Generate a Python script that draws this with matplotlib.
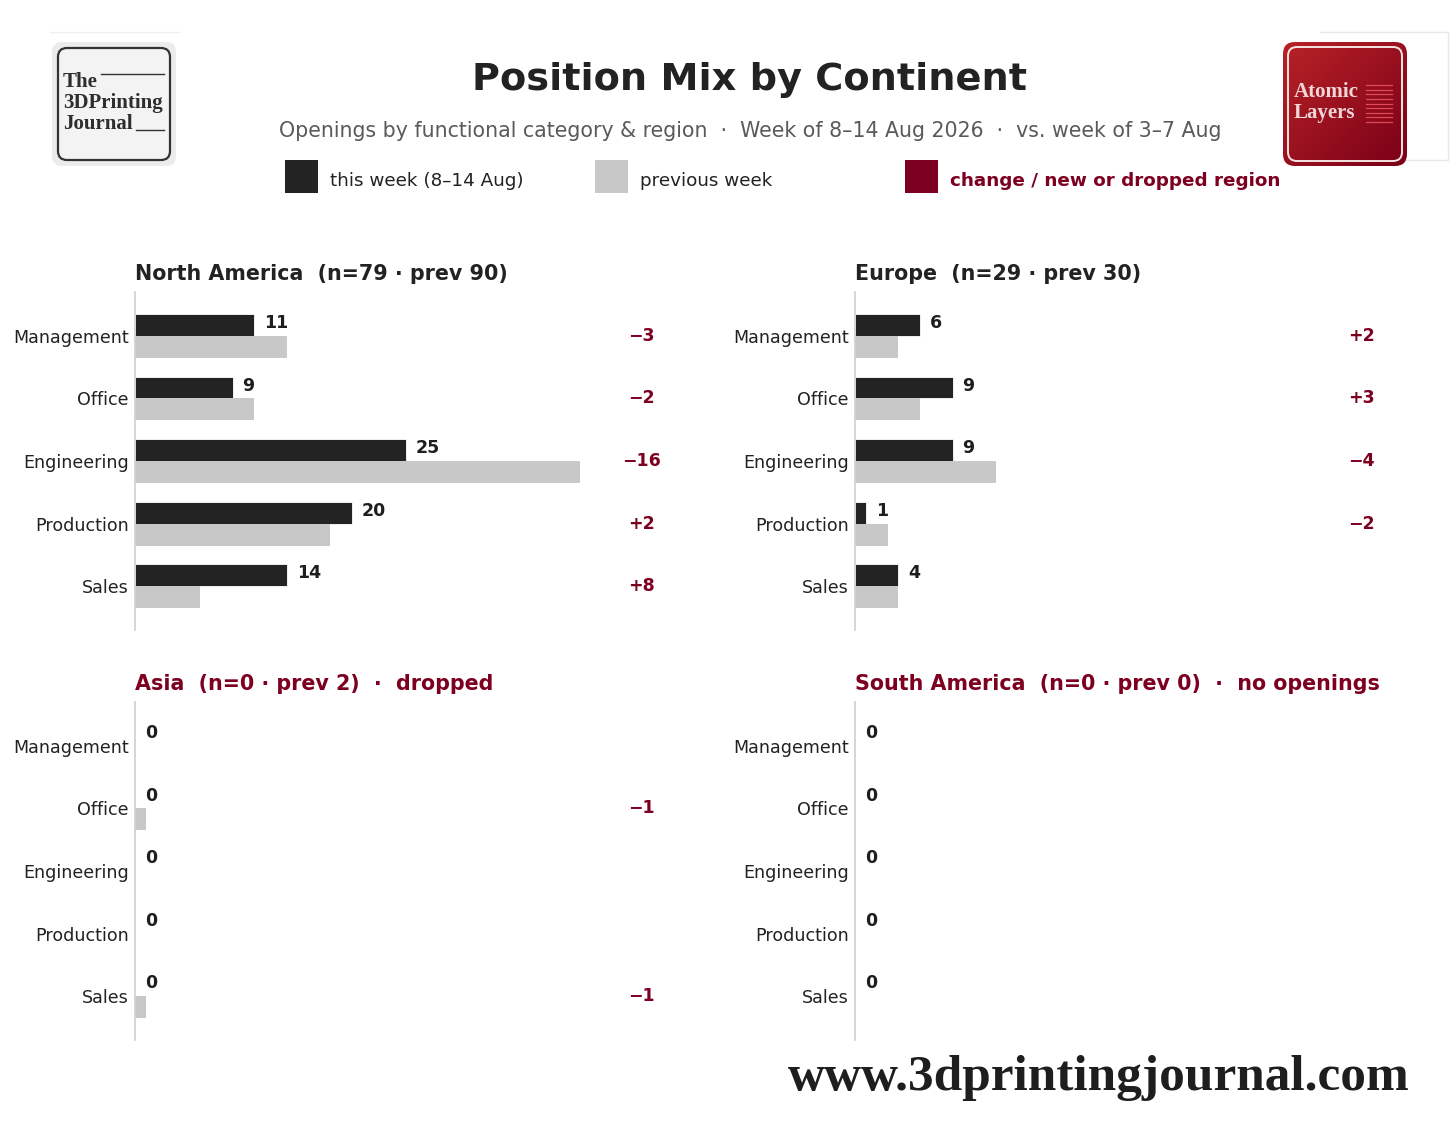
import numpy as np
import matplotlib
matplotlib.use("Agg")
import matplotlib.pyplot as plt
from matplotlib.patches import FancyBboxPatch, Rectangle
from matplotlib.colors import LinearSegmentedColormap

# data
categories = ["Management", "Office", "Engineering", "Production", "Sales"]
regions = ["North America", "Europe", "Asia", "South America"]
this_na = [11, 9, 25, 20, 14]
prev_na = [14, 11, 41, 18, 6]
this_eu = [6, 9, 9, 1, 4]
prev_eu = [4, 6, 13, 3, 4]
this_as = [0, 0, 0, 0, 0]
prev_as = [0, 1, 0, 0, 1]
this_sa = [0, 0, 0, 0, 0]
prev_sa = [0, 0, 0, 0, 0]
notes = ["", "", "dropped", "no openings"]

DARK = "#232323"
LIGHT = "#c8c8c8"
RED = "#7d0020"

plt.rcParams["font.family"] = ["DejaVu Sans"]

fig = plt.figure(figsize=(14.56, 11.43), dpi=100)

# header
fig.text(0.515, 1 - 80 / 1143, "Position Mix by Continent", ha="center", va="center",
         fontsize=27.5, fontweight="bold", color="#222222")
fig.text(0.515, 1 - 131 / 1143,
         "Openings by functional category & region  \u00b7  Week of 8\u201314 Aug 2026  \u00b7  vs. week of 3\u20137 Aug",
         ha="center", va="center", fontsize=14.8, color="#5a5a5a")

# legend
leg = [(285, "this week (8\u201314 Aug)", DARK, "#222222", "normal"),
       (595, "previous week", LIGHT, "#222222", "normal"),
       (905, "change / new or dropped region", RED, RED, "bold")]
for x0, lab, fc, tc, fw in leg:
    fig.patches.append(Rectangle((x0 / 1456, 1 - 193 / 1143), 33 / 1456, 33 / 1143,
                                 transform=fig.transFigure, facecolor=fc, edgecolor="none"))
    fig.text((x0 + 45) / 1456, 1 - 181 / 1143, lab, ha="left", va="center",
             fontsize=13.2, color=tc, fontweight=fw)

# panels
this_all = [this_na, this_eu, this_as, this_sa]
prev_all = [prev_na, prev_eu, prev_as, prev_sa]
lefts = [135 / 1456, 855 / 1456]
bottoms = [1 - 630 / 1143, 1 - 1040 / 1143]
w = 0.38
h = 338 / 1143
xmax = 51
y = np.arange(len(categories))
bh = 0.35

for i, reg in enumerate(regions):
    ax = fig.add_axes([lefts[i % 2], bottoms[i // 2], w, h])
    cur = this_all[i]
    prv = prev_all[i]
    ax.barh(y - bh / 2, cur, height=bh, color=DARK, edgecolor="white", linewidth=0.6)
    ax.barh(y + bh / 2, prv, height=bh, color=LIGHT, edgecolor="none")
    for yy, c, p in zip(y, cur, prv):
        ax.text(c + 0.9, yy - bh / 2 - 0.03, str(c), ha="left", va="center",
                fontsize=12.5, fontweight="bold", color="#1e1e1e")
        d = c - p
        if d != 0:
            ax.text(46.7, yy, f"{d:+d}".replace("-", "\u2212"), ha="center", va="center",
                    fontsize=12.5, fontweight="bold", color=RED)
    ax.set_xlim(0, xmax)
    ax.set_ylim(4.7, -0.7)
    ax.set_yticks(y)
    ax.set_yticklabels(categories, fontsize=12.6, color="#222222")
    ax.set_xticks([])
    ax.tick_params(axis="y", length=0, pad=4.5)
    for s in ["top", "right", "bottom"]:
        ax.spines[s].set_visible(False)
    ax.spines["left"].set_color("#d0d0d0")
    ax.spines["left"].set_linewidth(1.2)
    n = sum(cur)
    pn = sum(prv)
    title = f"{reg}  (n={n} \u00b7 prev {pn})"
    tcol = "#222222"
    if notes[i]:
        title += f"  \u00b7  {notes[i]}"
        tcol = RED
    ax.set_title(title, loc="left", pad=9, fontsize=14.85, fontweight="bold", color=tcol)

# overlay for logos and footer (pixel space)
ov = fig.add_axes([0, 0, 1, 1], zorder=-1)
ov.set_xlim(0, 1456)
ov.set_ylim(1143, 0)
ov.axis("off")

# faint frames
ov.plot([50, 180], [32, 32], color="#f0f0f0", lw=1)
ov.plot([1320, 1448, 1448, 1406], [32, 32, 160, 160], color="#e8e8e8", lw=1)

# left logo
ov.add_patch(FancyBboxPatch((52, 42), 124, 124, boxstyle="round,pad=0,rounding_size=10",
                            facecolor="#ececec", edgecolor="none"))
ov.add_patch(FancyBboxPatch((58, 48), 112, 112, boxstyle="round,pad=0,rounding_size=9",
                            facecolor="#f3f3f4", edgecolor="#333333", lw=1.6))
for txt, yy in [("The", 82), ("3DPrinting", 103), ("Journal", 124)]:
    ov.text(63, yy, txt, ha="left", va="center", fontsize=15, fontweight="bold",
            family="Liberation Serif", color="#2e2e2e")
ov.plot([101, 164], [74, 74], color="#333333", lw=1)
ov.plot([136, 164], [130, 130], color="#333333", lw=1)

# right logo
grad = np.linspace(0, 1, 200)
gx, gy = np.meshgrid(grad, grad)
gimg = (gx + gy) / 2
cmap = LinearSegmentedColormap.from_list("r", ["#b82226", "#7a0018"])
im = ov.imshow(gimg, cmap=cmap, extent=(1283, 1407, 166, 42), zorder=1)
clip = FancyBboxPatch((1283, 42), 124, 124, boxstyle="round,pad=0,rounding_size=12",
                      facecolor="none", edgecolor="none", transform=ov.transData)
ov.add_patch(clip)
im.set_clip_path(clip)
ov.add_patch(FancyBboxPatch((1288, 47), 114, 114, boxstyle="round,pad=0,rounding_size=9",
                            facecolor="none", edgecolor="#f4e4e4", lw=1.4, zorder=2))
for txt, yy in [("Atomic", 92), ("Layers", 113)]:
    ov.text(1294, yy, txt, ha="left", va="center", fontsize=15, fontweight="bold",
            family="Liberation Serif", color="#f0d6d6", zorder=3)
for yy in np.linspace(85, 122, 9):
    ov.plot([1366, 1392], [yy, yy], color="#e04a58", lw=0.9, zorder=3)

# footer
ov.text(1410, 1078, "www.3dprintingjournal.com", ha="right", va="center", fontsize=37,
        fontweight="bold", family="Liberation Serif", color="#1e1e1e")

fig.savefig("out.png", dpi=100, facecolor="white")
